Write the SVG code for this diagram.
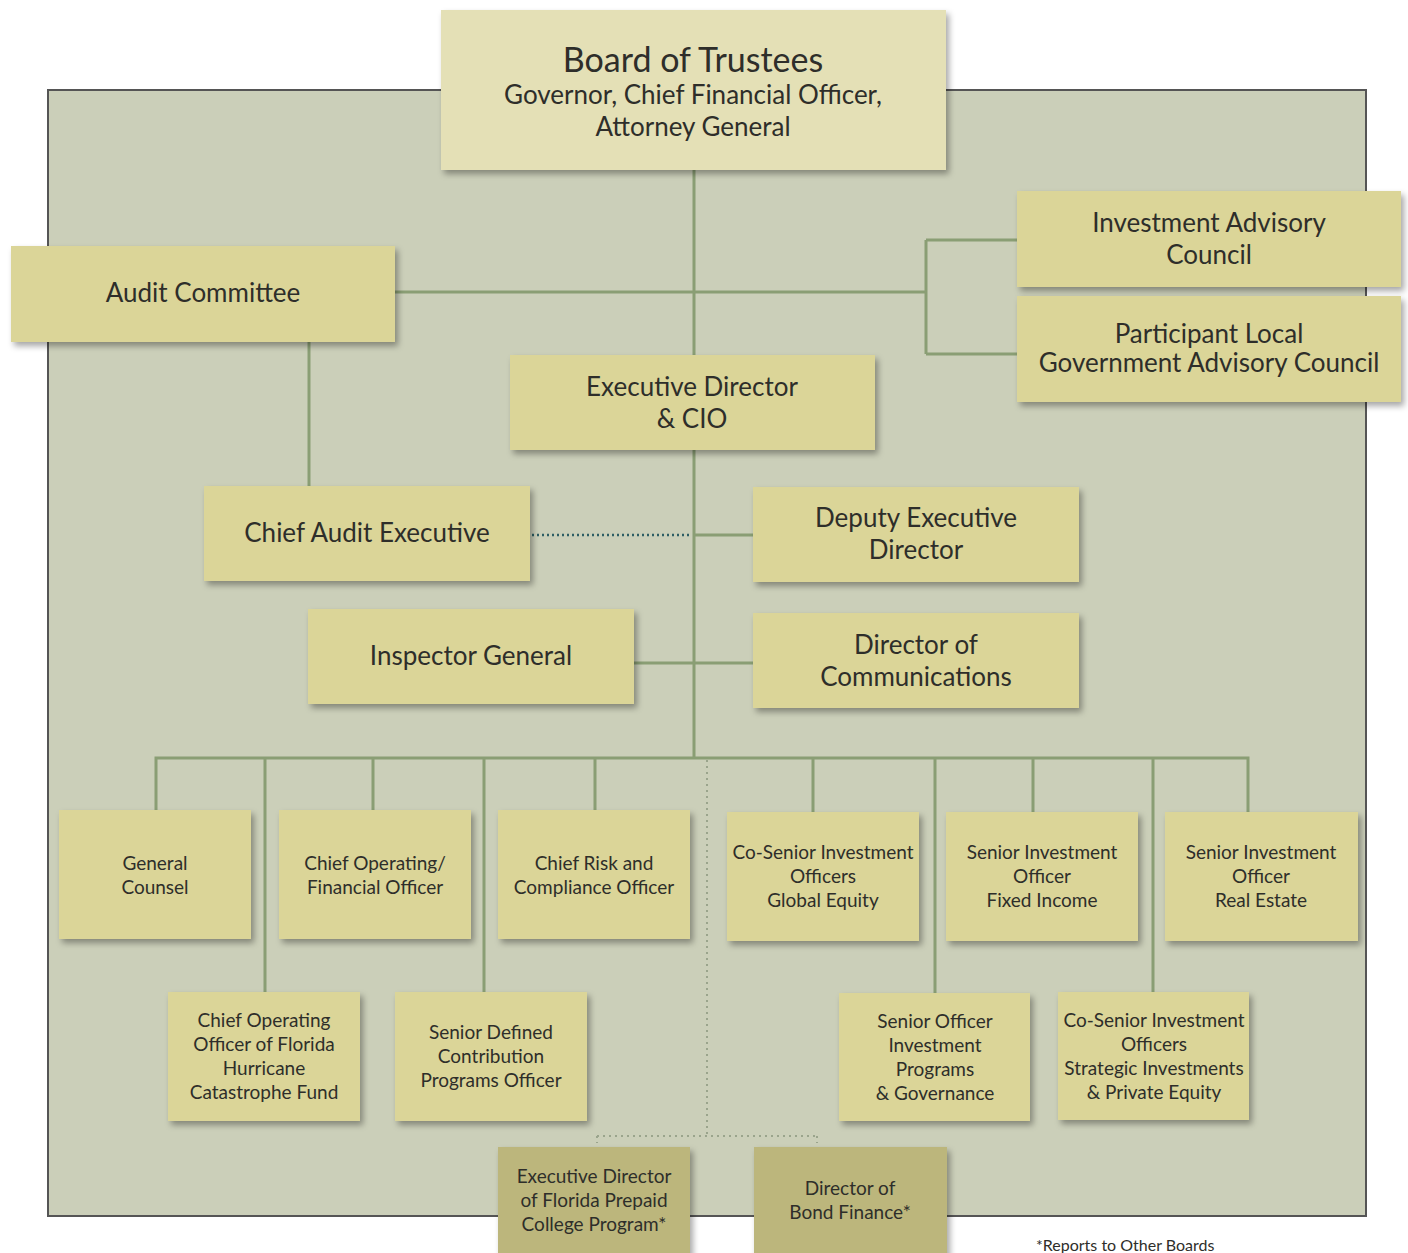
<svg xmlns="http://www.w3.org/2000/svg" width="1408" height="1253" viewBox="0 0 1408 1253">
<defs>
<filter id="sh" x="-10%" y="-10%" width="130%" height="140%">
<feDropShadow dx="3" dy="4" stdDeviation="3" flood-color="#000" flood-opacity="0.35"/>
</filter>
<style>
.box{fill:#dbd598;filter:url(#sh)}
.top{fill:#e4e0b6;filter:url(#sh)}
.ext{fill:#bcb67c;filter:url(#sh)}
text{font-family:Lato,"Noto Sans","Liberation Sans",sans-serif;fill:#2e2e2a;text-anchor:middle}
.l{font-size:26px}
.s{font-size:19px}
.ln{stroke:#8a9e74;stroke-width:3;fill:none}
.dot{stroke:#2e5e64;stroke-width:2.5;stroke-dasharray:2 3;fill:none}
.gd{stroke:#9aa48c;stroke-width:2;stroke-dasharray:2 4;fill:none}
</style>
</defs>
<rect x="48" y="90" width="1318" height="1126" fill="#cbcfb9" stroke="#555" stroke-width="2"/>
<g id="connectors">
<path class="ln" d="M694 170V758"/>
<path class="ln" d="M395 292H926M926 240V354M926 240H1017M926 354H1017"/>
<path class="ln" d="M309 342V486"/>
<path class="ln" d="M694 535H753"/>
<path class="dot" d="M532 535H692"/>
<path class="ln" d="M634 663H753"/>
<path class="ln" d="M156 810V758H1248V812M265 758V992M373 758V810M484 758V992M595 758V810M813 758V812M935 758V993M1033 758V812M1153 758V992"/>
<path class="gd" d="M707 760V1135M597 1136H817M597 1136V1143M817 1136V1143"/>
</g>
<g id="board"><rect class="top" x="441" y="10" width="505" height="160"/>
<text x="693" y="72" font-size="34">Board of Trustees</text>
<text x="693" y="104" font-size="26">Governor, Chief Financial Officer,</text>
<text x="693" y="136" font-size="26">Attorney General</text></g>
<g id="audit-committee"><rect class="box" x="11" y="246" width="384" height="96"/>
<text class="l" x="203" y="302">Audit Committee</text></g>
<g id="iac"><rect class="box" x="1017" y="191" width="384" height="96"/>
<text class="l" x="1209" y="232">Investment Advisory</text>
<text class="l" x="1209" y="264">Council</text></g>
<g id="plgac"><rect class="box" x="1017" y="296" width="384" height="106"/>
<text class="l" x="1209" y="343">Participant Local</text>
<text class="l" x="1209" y="372">Government Advisory Council</text></g>
<g id="exec"><rect class="box" x="510" y="355" width="365" height="95"/>
<text class="l" x="692" y="396">Executive Director</text>
<text class="l" x="692" y="428">&amp; CIO</text></g>
<g id="cae"><rect class="box" x="204" y="486" width="326" height="95"/>
<text class="l" x="367" y="542">Chief Audit Executive</text></g>
<g id="deputy"><rect class="box" x="753" y="487" width="326" height="95"/>
<text class="l" x="916" y="527">Deputy Executive</text>
<text class="l" x="916" y="559">Director</text></g>
<g id="ig"><rect class="box" x="308" y="609" width="326" height="95"/>
<text class="l" x="471" y="665">Inspector General</text></g>
<g id="comm"><rect class="box" x="753" y="613" width="326" height="95"/>
<text class="l" x="916" y="654">Director of</text>
<text class="l" x="916" y="686">Communications</text></g>
<g id="gc"><rect class="box" x="59" y="810" width="192" height="129"/>
<text class="s" x="155" y="870">General</text><text class="s" x="155" y="894">Counsel</text></g>
<g id="coo"><rect class="box" x="279" y="810" width="192" height="129"/>
<text class="s" x="375" y="870">Chief Operating/</text><text class="s" x="375" y="894">Financial Officer</text></g>
<g id="risk"><rect class="box" x="498" y="810" width="192" height="129"/>
<text class="s" x="594" y="870">Chief Risk and</text><text class="s" x="594" y="894">Compliance Officer</text></g>
<g id="ge"><rect class="box" x="727" y="812" width="192" height="129"/>
<text class="s" x="823" y="859">Co-Senior Investment</text><text class="s" x="823" y="883">Officers</text><text class="s" x="823" y="907">Global Equity</text></g>
<g id="fi"><rect class="box" x="946" y="812" width="192" height="129"/>
<text class="s" x="1042" y="859">Senior Investment</text><text class="s" x="1042" y="883">Officer</text><text class="s" x="1042" y="907">Fixed Income</text></g>
<g id="re"><rect class="box" x="1165" y="812" width="193" height="129"/>
<text class="s" x="1261" y="859">Senior Investment</text><text class="s" x="1261" y="883">Officer</text><text class="s" x="1261" y="907">Real Estate</text></g>
<g id="fhcf"><rect class="box" x="168" y="992" width="192" height="129"/>
<text class="s" x="264" y="1027">Chief Operating</text><text class="s" x="264" y="1051">Officer of Florida</text><text class="s" x="264" y="1075">Hurricane</text><text class="s" x="264" y="1099">Catastrophe Fund</text></g>
<g id="dc"><rect class="box" x="395" y="992" width="192" height="129"/>
<text class="s" x="491" y="1039">Senior Defined</text><text class="s" x="491" y="1063">Contribution</text><text class="s" x="491" y="1087">Programs Officer</text></g>
<g id="ipg"><rect class="box" x="839" y="993" width="191" height="128"/>
<text class="s" x="935" y="1028">Senior Officer</text><text class="s" x="935" y="1052">Investment</text><text class="s" x="935" y="1076">Programs</text><text class="s" x="935" y="1100">&amp; Governance</text></g>
<g id="si"><rect class="box" x="1058" y="992" width="191" height="128"/>
<text class="s" x="1154" y="1027">Co-Senior Investment</text><text class="s" x="1154" y="1051">Officers</text><text class="s" x="1154" y="1075">Strategic Investments</text><text class="s" x="1154" y="1099">&amp; Private Equity</text></g>
<g id="prepaid"><rect class="ext" x="498" y="1147" width="192" height="120"/>
<text class="s" x="594" y="1183">Executive Director</text><text class="s" x="594" y="1207">of Florida Prepaid</text><text class="s" x="594" y="1231">College Program*</text></g>
<g id="bond"><rect class="ext" x="754" y="1147" width="193" height="120"/>
<text class="s" x="850" y="1195">Director of</text><text class="s" x="850" y="1219">Bond Finance*</text></g>
<text x="1036" y="1251" font-size="16" style="text-anchor:start">*Reports to Other Boards</text>
</svg>
